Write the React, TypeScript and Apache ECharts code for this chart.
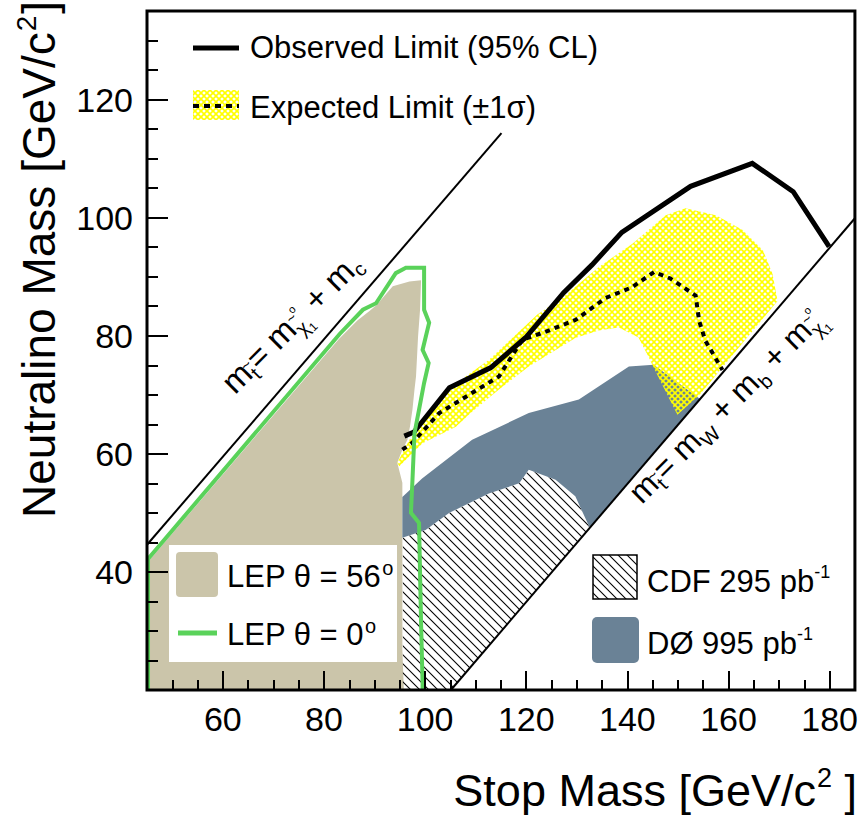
import React, { useEffect, useRef } from 'react';
import * as echarts from 'echarts';

const FONT = '"Liberation Sans", Arial, Helvetica, sans-serif';
const TAN = '#cbc5aa';
const BLUE = '#6a8296';
const GREEN = '#5ad25a';
const YELLOW = '#ffff00';

// axes
const xMin = 45, xMax = 185;
const yMin = 20, yMax = 135;
const xMajorTicks = [60, 80, 100, 120, 140, 160, 180];
const yMajorTicks = [40, 60, 80, 100, 120];

// kinematic boundaries
const lineMtMc = [[45, 44.6], [115.1, 114.3]];
const lineMtWb = [[105.1, 20], [185, 99.9]];

// limits
const observedLimit = [
  [95.9, 63.0], [97.8, 63.7], [104.8, 71.2], [113.0, 74.6], [119.9, 79.7], [127.4, 87.3],
  [133.0, 92.0], [138.9, 97.5], [152.5, 105.3], [164.7, 109.2], [172.8, 104.4], [179.9, 95.1],
];
const expectedLimit = [
  [95.5, 60.7], [97.5, 61.9], [102.8, 66.9], [114.6, 73.1], [119.2, 79.3], [123.9, 80.7],
  [129.8, 82.7], [135.7, 86.4], [140.9, 88.2], [145.3, 90.8], [148.5, 89.7], [153.5, 86.8],
  [154.2, 82.5], [155.4, 79.2], [158.8, 74.2],
];
const expectedBand = [
  [94.5, 58.5], [96.9, 62.4], [104.4, 70.3], [108.0, 73.1], [112.6, 75.9], [122.2, 83.6],
  [127.4, 86.6], [134.3, 91.6], [141.0, 95.6], [147.6, 100.4], [151.5, 101.6], [157.5, 100.4],
  [162.8, 97.9], [166.8, 94.5], [168.7, 90.5], [169.7, 85.9], [154.3, 70.0], [149.9, 66.6],
  [145.9, 73.4], [144.2, 76.4], [142.2, 79.7], [138.3, 81.4], [134.3, 80.9], [129.7, 79.6],
  [120.5, 74.8], [114.6, 70.9], [109.0, 66.9], [106.1, 64.6], [99.5, 61.8], [94.9, 57.9],
];
const lepTheta56 = [
  [45, 20], [45, 41.5], [83.0, 79.5], [86.6, 82.6], [89.0, 84.2], [90.4, 85.2], [93.6, 88.4],
  [96.9, 89.2], [99.2, 89.4], [99.0, 84.4], [98.6, 79.8], [98.4, 76.4], [98.2, 73.1],
  [97.9, 70.9], [97.5, 67.5], [97.0, 64.6], [96.5, 62.4], [95.5, 60.7], [94.5, 58.5],
  [95.5, 55.1], [95.5, 26.8], [95.8, 20],
];
const lepTheta0 = [
  [45.2, 20], [45.2, 42.2], [83.1, 80.3], [87.7, 84.4], [90.3, 85.5], [94.2, 90.6],
  [96.2, 91.5], [99.8, 91.5], [99.8, 84.4], [100.8, 82.2], [99.5, 77.6], [100.7, 75.4],
  [99.8, 72.0], [98.8, 67.5], [97.9, 63.5], [97.5, 55.6], [97.2, 50.0], [98.8, 48.3],
  [99.2, 31.3], [99.5, 21.1], [99.5, 20],
];
const cdf295 = [
  [95.6, 20], [105.1, 20], [132.6, 47.4], [129.7, 52.8], [125.8, 55.6], [120.5, 57.3],
  [118.6, 55.0], [112.6, 53.3], [104.8, 50.0], [100.1, 47.1], [95.6, 45.8],
];
const d0995 = [
  [95.5, 45.8], [95.5, 52.7], [99.4, 55.8], [109.3, 62.4], [120.5, 66.9], [130.4, 69.2],
  [140.3, 74.8], [145.2, 75.1], [154.4, 69.3], [132.6, 47.4], [129.7, 52.8], [125.8, 55.6],
  [120.5, 57.3], [118.6, 55.0], [112.6, 53.3], [104.8, 50.0], [100.1, 47.1],
];

type Piece = { t: string; s: number; dy?: number; dx?: number; over?: boolean };

function makeHatch(size: number, color: string, width: number, both: boolean) {
  const c = document.createElement('canvas');
  c.width = size;
  c.height = size;
  const ctx = c.getContext('2d')!;
  ctx.strokeStyle = color;
  ctx.lineWidth = width;
  const seg = (a: number, b: number, cc: number, d: number) => {
    ctx.beginPath();
    ctx.moveTo(a, b);
    ctx.lineTo(cc, d);
    ctx.stroke();
  };
  seg(-1, -1, size + 1, size + 1);
  seg(-2, size - 2, 2, size + 2);
  seg(size - 2, -2, size + 2, 2);
  if (both) {
    seg(-1, size + 1, size + 1, -1);
    seg(-2, 2, 2, -2);
    seg(size - 2, size + 2, size + 2, size - 2);
  }
  return c;
}

const measureCtx = document.createElement('canvas').getContext('2d')!;

function textRun(pieces: Piece[], x: number, y: number, rotation = 0, anchorRight = false, z = 60) {
  let u = 0;
  let last = 0;
  const children: any[] = [];
  for (const p of pieces) {
    measureCtx.font = `${p.s}px ${FONT}`;
    const w = measureCtx.measureText(p.t).width;
    const px = p.over ? last + (p.dx || 0) : u + (p.dx || 0);
    children.push({
      type: 'text',
      x: px,
      y: (p.dy || 0) - 0.35 * p.s,
      silent: true,
      z,
      style: { text: p.t, fontSize: p.s, fontFamily: FONT, fill: '#000', align: 'left', verticalAlign: 'middle' },
    });
    if (!p.over) {
      last = px;
      u = px + w;
    }
  }
  if (anchorRight) children.forEach((c) => (c.x -= u));
  return { type: 'group', x, y, rotation, z, children };
}

const kinLabelC: Piece[] = [
  { t: 'm', s: 33 }, { t: 't', s: 20, dy: 6 }, { t: '~', s: 16, dy: -8, dx: -3, over: true },
  { t: '= m', s: 33, dx: 1 }, { t: 'χ', s: 20, dy: 7 }, { t: '~', s: 15, dy: -10, dx: 0, over: true },
  { t: 'o', s: 11, dy: -17, dx: 8, over: true }, { t: '1', s: 12, dy: 11 },
  { t: ' + m', s: 33 }, { t: 'c', s: 20, dy: 6 },
];
const kinLabelWb: Piece[] = [
  { t: 'm', s: 32 }, { t: 't', s: 20, dy: 6 }, { t: '~', s: 16, dy: -8, dx: -3, over: true },
  { t: '= m', s: 32, dx: 1 }, { t: 'W', s: 20, dy: 7 }, { t: ' + m', s: 32 }, { t: 'b', s: 20, dy: 7 },
  { t: ' + m', s: 32 }, { t: 'χ', s: 20, dy: 7 }, { t: '~', s: 15, dy: -10, dx: 0, over: true },
  { t: 'o', s: 11, dy: -17, dx: 8, over: true }, { t: '1', s: 12, dy: 11 },
];

export default function App() {
  const ref = useRef<HTMLDivElement>(null);
  useEffect(() => {
    const el = ref.current!;
    const chart = echarts.init(el, null, { renderer: 'svg' });
    const hatchPattern: any = { image: makeHatch(9, '#000', 1.1, false), repeat: 'repeat', imageWidth: 9, imageHeight: 9 };
    const crossPattern: any = { image: makeHatch(6, YELLOW, 1.6, true), repeat: 'repeat', imageWidth: 6, imageHeight: 6 };

    const poly = (name: string, pts: number[][], fill: any) => ({
      type: 'custom',
      name,
      data: pts,
      clip: true,
      silent: true,
      renderItem: (params: any, api: any) => {
        if (params.dataIndex !== 0) return null;
        return {
          type: 'polygon',
          shape: { points: pts.map((p) => api.coord(p)) },
          style: { fill, stroke: 'none' },
        };
      },
    });
    const line = (name: string, pts: number[][], width: number, color: string, type: any = 'solid') => ({
      type: 'line',
      name,
      data: pts,
      showSymbol: false,
      symbol: 'none',
      silent: true,
      clip: true,
      lineStyle: { width, color, type, cap: 'butt', join: 'miter' },
      emphasis: { disabled: true },
    });

    const axisCommon = {
      type: 'value',
      z: 10,
      axisLine: { show: false },
      splitLine: { show: false },
    };

    chart.setOption({
      animation: false,
      backgroundColor: '#fff',
      grid: { left: 147, top: 11, width: 710, height: 679, show: false },
      xAxis: [
        {
          ...axisCommon, min: xMin, max: xMax, interval: 5, position: 'bottom',
          axisTick: { show: true, inside: true, length: 10, lineStyle: { color: '#000', width: 2 } },
          axisLabel: { show: false },
        },
        {
          ...axisCommon, min: xMin, max: xMax, position: 'bottom',
          axisTick: { show: true, inside: true, length: 19, customValues: xMajorTicks, lineStyle: { color: '#000', width: 2 } },
          axisLabel: { show: true, customValues: xMajorTicks, fontSize: 34, fontFamily: FONT, color: '#000', margin: 12 },
        },
      ],
      yAxis: [
        {
          ...axisCommon, min: yMin, max: yMax, interval: 5, position: 'left',
          axisTick: { show: true, inside: true, length: 11, lineStyle: { color: '#000', width: 2 } },
          axisLabel: { show: false },
        },
        {
          ...axisCommon, min: yMin, max: yMax, position: 'left',
          axisTick: { show: true, inside: true, length: 21, customValues: yMajorTicks, lineStyle: { color: '#000', width: 2 } },
          axisLabel: { show: true, customValues: yMajorTicks, fontSize: 34, fontFamily: FONT, color: '#000', margin: 14 },
        },
      ],
      series: [
        poly('LEP θ = 56°', lepTheta56, TAN),
        poly('CDF 295 pb-1', cdf295, hatchPattern),
        poly('DØ 995 pb-1', d0995, BLUE),
        poly('Expected ±1σ', expectedBand, crossPattern),
        line('m_t = m_chi + m_c', lineMtMc, 2, '#000'),
        line('m_t = m_W + m_b + m_chi', lineMtWb, 2, '#000'),
        line('Observed Limit', observedLimit, 5, '#000'),
        line('Expected Limit', expectedLimit, 4, '#000', [5, 5]),
        line('LEP θ = 0°', lepTheta0, 4, GREEN),
      ],
    });

    const toPx = (p: number[]) => chart.convertToPixel({ gridIndex: 0 }, p) as number[];
    const a1 = toPx([62.4, 69.9]);
    const a2 = toPx([142.85, 51.3]);
    const tl = toPx([xMin, yMax]);
    const br = toPx([xMax, yMin]);

    chart.setOption({
      graphic: [
        // LEP legend
        { type: 'rect', z: 50, silent: true, shape: { x: 169, y: 545, width: 228, height: 117 }, style: { fill: '#fff' } },
        { type: 'rect', z: 51, silent: true, shape: { x: 176, y: 552, width: 42, height: 45, r: 4 }, style: { fill: TAN } },
        { type: 'line', z: 51, silent: true, shape: { x1: 178, y1: 633, x2: 217, y2: 633 }, style: { stroke: GREEN, lineWidth: 5 } },
        textRun([{ t: 'LEP θ = 56', s: 31 }, { t: 'o', s: 20, dy: -12, dx: 1 }], 227, 587),
        textRun([{ t: 'LEP θ = 0', s: 31 }, { t: 'o', s: 20, dy: -12, dx: 1 }], 227, 645),
        // limits legend
        { type: 'line', z: 51, silent: true, shape: { x1: 193, y1: 48, x2: 239, y2: 48 }, style: { stroke: '#000', lineWidth: 5 } },
        { type: 'rect', z: 51, silent: true, shape: { x: 193, y: 90, width: 46, height: 30 }, style: { fill: crossPattern } },
        { type: 'line', z: 52, silent: true, shape: { x1: 193, y1: 106, x2: 239, y2: 106 }, style: { stroke: '#000', lineWidth: 4, lineDash: [6, 5] } },
        textRun([{ t: 'Observed Limit (95% CL)', s: 31 }], 250, 58),
        textRun([{ t: 'Expected Limit (±1σ)', s: 31 }], 250, 118),
        // Tevatron legend
        { type: 'rect', z: 51, silent: true, shape: { x: 593, y: 555, width: 44, height: 44 }, style: { fill: hatchPattern, stroke: '#000', lineWidth: 1.5 } },
        { type: 'rect', z: 51, silent: true, shape: { x: 592, y: 617, width: 47, height: 46, r: 5 }, style: { fill: BLUE } },
        textRun([{ t: 'CDF 295 pb', s: 31 }, { t: '-1', s: 18, dy: -14 }], 647, 592),
        textRun([{ t: 'DØ 995 pb', s: 31 }, { t: '-1', s: 18, dy: -14 }], 647, 654),
        // kinematic labels
        textRun(kinLabelC, a1[0], a1[1], Math.PI / 4),
        textRun(kinLabelWb, a2[0], a2[1], Math.PI / 4),
        // axis titles
        textRun([{ t: 'Neutralino Mass [GeV/c', s: 46 }, { t: '2', s: 28, dy: -19, dx: 1 }, { t: ']', s: 46, dx: 2 }], 55, 518, Math.PI / 2),
        textRun([{ t: 'Stop Mass [GeV/c', s: 45 }, { t: '2', s: 27, dy: -19, dx: 1 }, { t: ' ]', s: 45 }], 857, 806, 0, true),
        // frame
        {
          type: 'rect', z: 100, silent: true,
          shape: { x: tl[0], y: tl[1], width: br[0] - tl[0], height: br[1] - tl[1] },
          style: { fill: 'none', stroke: '#000', lineWidth: 3 },
        },
      ],
    });

    return () => chart.dispose();
  }, []);
  return <div ref={ref} style={{ position: 'fixed', left: 0, top: 0, width: 861, height: 816, background: '#fff' }} />;
}
